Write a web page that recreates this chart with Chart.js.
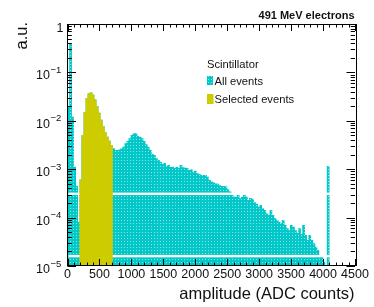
<!DOCTYPE html>
<html>
<head>
<meta charset="utf-8">
<script src="https://cdn.jsdelivr.net/npm/chart.js@4.4.1/dist/chart.umd.min.js"></script>
<style>
  body { margin: 0; background: #fff; }
  canvas { display: block; }
</style>
</head>
<body>
<canvas id="chart" width="374" height="307"></canvas>
<script>
// histogram bins: 32 ADC counts each, 0 .. 4096
const binWidth = 32;

// All events (a.u.), one value per bin
const allEvents = [
  0.02, 0.38, 0.012, 1.1e-3, 4.5e-4, 8e-5, 6e-4, 5e-3,
  0.015, 0.029, 0.036, 0.038, 0.034, 0.027, 0.020, 0.0145,
  0.0103, 7.7e-3, 5.8e-3, 4.6e-3, 3.8e-3, 3.1e-3, 2.67e-3, 2.46e-3,
  2.46e-3, 2.5e-3, 2.67e-3, 2.85e-3, 3.39e-3, 3.78e-3, 4.3e-3, 5.0e-3,
  5.46e-3, 5.46e-3, 4.8e-3, 4.6e-3, 4.3e-3, 3.78e-3, 3.23e-3, 2.88e-3,
  2.46e-3, 2.03e-3, 1.94e-3, 1.66e-3, 1.53e-3, 1.41e-3, 1.26e-3, 1.33e-3,
  1.15e-3, 1.2e-3, 1.09e-3, 1.1e-3, 1.04e-3, 1.09e-3, 1.04e-3, 1.2e-3,
  1.08e-3, 1.06e-3, 1.04e-3, 9.5e-4, 9.8e-4, 8.75e-4, 9.1e-4, 8.1e-4,
  7.8e-4, 7.5e-4, 7.5e-4, 7.5e-4, 6.9e-4, 5.9e-4, 5.5e-4, 5.2e-4,
  5.0e-4, 4.9e-4, 4.6e-4, 4.45e-4, 4.45e-4, 4.3e-4, 3.8e-4, 3.4e-4,
  3.1e-4, 2.65e-4, 2.65e-4, 2.9e-4, 2.46e-4, 2.65e-4, 3.1e-4, 2.65e-4,
  2.27e-4, 2.5e-4, 2.4e-4, 2.05e-4, 1.9e-4, 1.64e-4, 1.79e-4, 1.53e-4,
  1.41e-4, 1.2e-4, 1.11e-4, 1.41e-4, 1.11e-4, 9.5e-5, 8.75e-5, 8.1e-5,
  7.5e-5, 8.75e-5, 6.9e-5, 5.9e-5, 5.4e-5, 6.9e-5, 6.4e-5, 5.4e-5,
  4.8e-5, 5.9e-5, 4.5e-5, 6.9e-5, 4.3e-5, 3.4e-5, 4.3e-5, 3.4e-5,
  2.9e-5, 2.45e-5, 2.1e-5, 1.65e-5, 1.52e-5, 1.2e-5, null, 1.15e-3
];

// Selected events, bins 6 .. 21 (192 - 704 ADC)
const selectedFirstBin = 6;
const selectedEvents = [
  6e-4, 5e-3, 0.015, 0.029, 0.036, 0.038, 0.034, 0.027,
  0.020, 0.0145, 0.0103, 7.7e-3, 5.8e-3, 4.6e-3, 3.8e-3, 3.1e-3
];

const xTicks = [0, 500, 1000, 1500, 2000, 2500, 3000, 3500, 4000, 4500];
const yDecades = [0, -1, -2, -3, -4, -5];

const FONT = '"Liberation Sans", Arial, sans-serif';
const CYAN = '#00c8c8';
const OLIVE = '#cccc00';

function dotPattern(base, dot) {
  const c = document.createElement('canvas');
  c.width = 3; c.height = 3;
  const g = c.getContext('2d');
  g.fillStyle = base;
  g.fillRect(0, 0, 3, 3);
  g.fillStyle = dot;
  g.fillRect(1, 1, 1, 1);
  return g.createPattern(c, 'repeat');
}
const cyanFill = dotPattern(CYAN, '#8fe3e3');

const allData = allEvents.map((v, i) => ({ x: (i + 0.5) * binWidth, y: v }));
const selData = selectedEvents.map((v, i) => ({ x: (i + selectedFirstBin + 0.5) * binWidth, y: v }));

// white streaks across the hatched fill (as in the original render)
const streaks = [3.1e-4, 1.6e-5];
const streakPlugin = {
  id: 'streaks',
  afterDatasetDraw(chart, args) {
    if (args.index !== 0) return;
    const { ctx, chartArea: a, scales: { y } } = chart;
    ctx.save();
    ctx.fillStyle = '#fff';
    streaks.forEach(v => {
      const py = y.getPixelForValue(v);
      ctx.fillRect(a.left + 1, py - 1.2, a.right - a.left - 2, 2.4);
    });
    ctx.restore();
  }
};

// ROOT-like frame, inner ticks and labels
const framePlugin = {
  id: 'frame',
  afterDraw(chart) {
    const { ctx, chartArea: a, scales: { x, y } } = chart;
    ctx.save();
    ctx.strokeStyle = '#000';
    ctx.lineWidth = 1;
    ctx.strokeRect(Math.round(a.left) - 0.5, Math.round(a.top) + 0.5,
      Math.round(a.right - a.left) + 1, Math.round(a.bottom - a.top) - 1);

    ctx.beginPath();
    for (let v = 0; v <= 4500; v += 100) {
      const px = Math.round(x.getPixelForValue(v)) + 0.5;
      const len = v % 500 === 0 ? 7 : 3.5;
      ctx.moveTo(px, a.bottom); ctx.lineTo(px, a.bottom - len);
      ctx.moveTo(px, a.top); ctx.lineTo(px, a.top + len);
    }
    for (let e = -5; e <= 0; e++) {
      for (let m = 1; m <= 9; m++) {
        const v = m * Math.pow(10, e);
        if (v > 1) break;
        const py = Math.round(y.getPixelForValue(v)) + 0.5;
        const len = m === 1 ? 8.5 : 4.3;
        ctx.moveTo(a.left, py); ctx.lineTo(a.left + len, py);
        ctx.moveTo(a.right, py); ctx.lineTo(a.right - len, py);
      }
    }
    ctx.stroke();

    ctx.fillStyle = '#111';
    ctx.textBaseline = 'alphabetic';
    ctx.font = '12.5px ' + FONT;
    ctx.textAlign = 'center';
    xTicks.forEach(v => ctx.fillText(String(v), x.getPixelForValue(v), 277.5));

    yDecades.forEach(e => {
      const py = y.getPixelForValue(Math.pow(10, e));
      if (e === 0) {
        ctx.font = '12.5px ' + FONT;
        ctx.textAlign = 'right';
        ctx.fillText('1', 63.5, py + 7.5);
        return;
      }
      ctx.font = '12.5px ' + FONT;
      ctx.textAlign = 'right';
      ctx.fillText('10', 50, py + 7);
      ctx.font = '9.5px ' + FONT;
      ctx.textAlign = 'left';
      ctx.fillText('\u2212' + (-e), 50.5, py + 0.5);
    });

    // axis titles
    ctx.font = '16.5px ' + FONT;
    ctx.textAlign = 'right';
    ctx.fillText('amplitude (ADC counts)', 354.5, 299);
    ctx.save();
    ctx.translate(27, 22);
    ctx.rotate(-Math.PI / 2);
    ctx.fillText('a.u.', 0, 0);
    ctx.restore();

    // title
    ctx.font = 'bold 11px ' + FONT;
    ctx.fillText('491 MeV electrons', 354.5, 18.5);

    // legend
    ctx.textAlign = 'left';
    ctx.font = '11.2px ' + FONT;
    ctx.fillText('Scintillator', 207, 68);
    ctx.fillStyle = cyanFill;
    ctx.fillRect(207, 76, 6, 9);
    ctx.fillStyle = OLIVE;
    ctx.fillRect(207, 94, 6.5, 10);
    ctx.fillStyle = '#111';
    ctx.fillText('All events', 214.5, 84.5);
    ctx.fillText('Selected events', 214.5, 102.5);
    ctx.restore();
  }
};

new Chart(document.getElementById('chart'), {
  type: 'bar',
  data: {
    datasets: [
      {
        label: 'All events',
        data: allData,
        backgroundColor: cyanFill,
        borderWidth: 0,
        grouped: false,
        order: 2,
        barPercentage: 1,
        categoryPercentage: 1
      },
      {
        label: 'Selected events',
        data: selData,
        backgroundColor: OLIVE,
        borderWidth: 0,
        grouped: false,
        order: 1,
        barPercentage: 1,
        categoryPercentage: 1
      }
    ]
  },
  options: {
    responsive: false,
    animation: false,
    devicePixelRatio: 1,
    events: [],
    layout: { padding: { left: 67.5, right: 19, top: 24, bottom: 41 } },
    scales: {
      x: { type: 'linear', display: false, min: 0, max: 4500, offset: false },
      y: { type: 'logarithmic', display: false, min: 1e-5, max: 1 }
    },
    plugins: {
      legend: { display: false },
      tooltip: { enabled: false }
    }
  },
  plugins: [streakPlugin, framePlugin]
});
</script>
</body>
</html>
